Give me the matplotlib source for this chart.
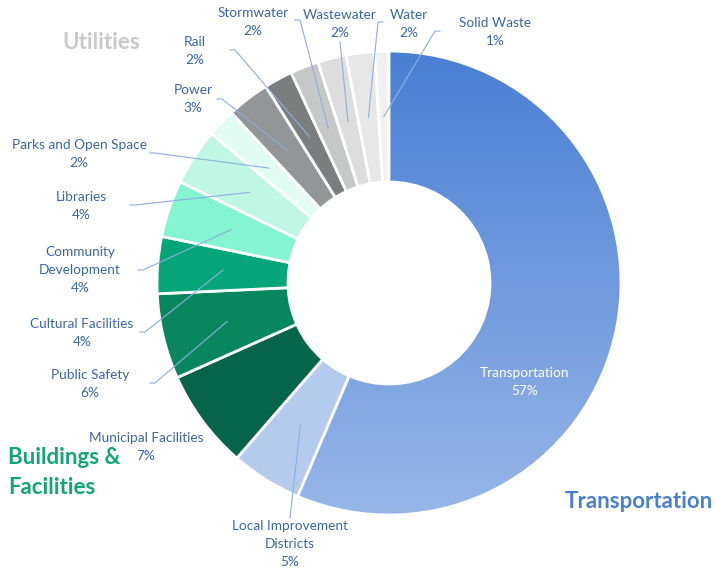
import numpy as np
import matplotlib
matplotlib.use("Agg")
import matplotlib.pyplot as plt
from matplotlib.colors import LinearSegmentedColormap

# ── data ──────────────────────────────────────────────────────────────────────
categories = ["Transportation", "Local Improvement\nDistricts", "Municipal Facilities",
              "Public Safety", "Cultural Facilities", "Community\nDevelopment",
              "Libraries", "Parks and Open Space", "Power", "Rail", "Stormwater",
              "Wastewater", "Water", "Solid Waste"]
values = [57, 5, 7, 6, 4, 4, 4, 2, 3, 2, 2, 2, 2, 1]
colors = ["#4a80d4", "#b4cbee", "#056449", "#08875f", "#07a57a", "#83f5d0",
          "#bff7e4", "#e2fcf3", "#939696", "#7a7e7e", "#c6c8c8", "#dcdddc",
          "#e6e7e6", "#f1f1f1"]
groups = ["Utilities", "Buildings &\nFacilities", "Transportation"]
group_colors = ["#c9c9c9", "#13a574", "#4a7fd0"]

FONT = ["Lato", "DejaVu Sans"]
LABEL_CLR = "#3b66a8"
LINE_CLR = "#8eaee0"

W, H = 715, 569
CX, CY = 389, H - 283
R_OUT, R_IN = 232, 101
LINE_H = 17.8

fig = plt.figure(figsize=(W / 100, H / 100), dpi=100, facecolor="white")
ax = fig.add_axes([0, 0, 1, 1])

wedges, _ = ax.pie(values, colors=colors, startangle=90, counterclock=False,
                   center=(CX, CY), radius=R_OUT, frame=True,
                   wedgeprops=dict(width=R_OUT - R_IN, edgecolor="white", linewidth=2))
ax.set_xlim(0, W)
ax.set_ylim(0, H)
ax.set_aspect("equal")
ax.axis("off")

# gradient fill for the transportation wedge
grad = LinearSegmentedColormap.from_list("tr", ["#4a7fd3", "#96b6e8"])
img = ax.imshow(np.linspace(0, 1, 256).reshape(-1, 1), cmap=grad, aspect="auto",
                extent=(CX - R_OUT, CX + R_OUT, CY - R_OUT, CY + R_OUT),
                origin="upper", zorder=wedges[0].get_zorder() + 0.1)
img.set_clip_path(wedges[0])
wedges[0].set_zorder(wedges[0].get_zorder() + 0.2)
wedges[0].set_facecolor("none")


def mid_point(w, r=(R_OUT + R_IN) / 2):
    a = np.deg2rad((w.theta1 + w.theta2) / 2)
    return CX + r * np.cos(a), CY + r * np.sin(a)


# label layout (image pixel coords: x, centre y of first line), leader anchor
layout = {
    "Transportation": (525, 373, None),
    "Local Improvement\nDistricts": (290, 526, (290, 518)),
    "Municipal Facilities": (146, 438, None),
    "Public Safety": (90, 375, (150, 383)),
    "Cultural Facilities": (82, 324, (140, 332)),
    "Community\nDevelopment": (80, 252, (138, 270)),
    "Libraries": (81, 197, (130, 205)),
    "Parks and Open Space": (79, 145, (150, 153)),
    "Power": (193, 90, (217, 99)),
    "Rail": (195, 42, (230, 50)),
    "Stormwater": (253, 13, (295, 20)),
    "Wastewater": (340, 15, (340, 42)),
    "Water": (409, 15, (383, 22)),
    "Solid Waste": (495, 23, (440, 31)),
}

for w, cat, val in zip(wedges, categories, values):
    x, y, anchor = layout[cat]
    clr = "white" if cat == "Transportation" else LABEL_CLR
    lines = cat.split("\n") + [f"{val}%"]
    for i, line in enumerate(lines):
        ax.text(x, H - y - i * LINE_H, line, ha="center", va="center", fontsize=9.8,
                color=clr, family=FONT, zorder=10)
    if anchor is not None:
        ax_, ay_ = anchor
        px, py = mid_point(w)
        if cat in ("Wastewater", "Local Improvement\nDistricts"):
            xs, ys = [ax_, px], [H - ay_, py]
        else:
            step = 5 if ax_ < px else -5
            xs, ys = [ax_, ax_ + step, px], [H - ay_, H - ay_, py]
        ax.plot(xs, ys, color=LINE_CLR, linewidth=0.8, zorder=9)

# group headings
ax.text(101, H - 42, groups[0], ha="center", va="center", fontsize=16,
        fontweight="bold", color=group_colors[0], family=FONT)
for i, line in enumerate(groups[1].split("\n")):
    ax.text(8, H - 458 - i * 29, line, ha="left", va="center", fontsize=16,
            fontweight="bold", color=group_colors[1], family=FONT)
ax.text(713, H - 502, groups[2], ha="right", va="center", fontsize=16,
        fontweight="bold", color=group_colors[2], family=FONT)

fig.savefig("out.png", dpi=100, facecolor="white")
